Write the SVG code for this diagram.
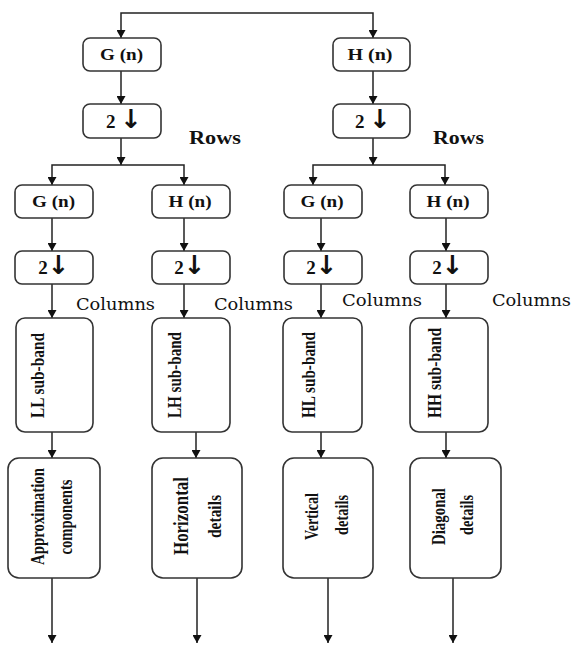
<svg xmlns="http://www.w3.org/2000/svg" width="572" height="647" viewBox="0 0 572 647">
<style>
.box{fill:#fff;stroke:#333;stroke-width:1.6}
.lbl{font-family:"Liberation Serif",serif;font-weight:bold;font-size:16px;fill:#111;text-anchor:middle}
.two{font-family:"Liberation Serif",serif;font-weight:bold;font-size:19px;fill:#111;text-anchor:middle}
.arr{font-family:"DejaVu Sans",sans-serif;font-weight:bold;font-size:26px}
.rows{font-family:"Liberation Serif",serif;font-weight:bold;font-size:18px;fill:#111}
.cols{font-family:"DejaVu Serif",serif;font-size:16px;fill:#111}
.rot{font-family:"Liberation Serif",serif;font-weight:bold;font-size:18px;fill:#111;text-anchor:middle;dominant-baseline:central}
.con{fill:none;stroke:#222;stroke-width:1.5;marker-end:url(#ah)}
</style>
<defs>
<marker id="ah" markerUnits="userSpaceOnUse" markerWidth="9" markerHeight="9" refX="8" refY="4.5" orient="auto">
<path d="M0,0 L8,4.5 L0,9 z" fill="#111"/>
</marker>
</defs>
<g id="connectors">
<path class="con" d="M247,13 H121 V38"/>
<path class="con" d="M247,13 H373 V38"/>
<path class="con" d="M121,71 V104"/>
<path class="con" d="M373,71 V104"/>
<path class="con" d="M121,138 V165"/>
<path class="con" d="M373,138 V165"/>
<path class="con" d="M121,165 H52 V185"/>
<path class="con" d="M121,165 H184 V185"/>
<path class="con" d="M373,165 H313 V185"/>
<path class="con" d="M373,165 H445 V185"/>
<path class="con" d="M52,218 V251"/>
<path class="con" d="M184,218 V251"/>
<path class="con" d="M321,218 V251"/>
<path class="con" d="M446,218 V251"/>
<path class="con" d="M52,284 V318"/>
<path class="con" d="M184,284 V318"/>
<path class="con" d="M321,284 V318"/>
<path class="con" d="M446,284 V318"/>
<path class="con" d="M52,432 V458"/>
<path class="con" d="M196,432 V458"/>
<path class="con" d="M321,432 V458"/>
<path class="con" d="M446,432 V458"/>
<path class="con" d="M52,578 V643"/>
<path class="con" d="M197,578 V643"/>
<path class="con" d="M328,578 V643"/>
<path class="con" d="M453,578 V643"/>
</g>
<g id="G1"><rect class="box" x="83" y="38" width="78" height="33" rx="7"/><text class="lbl" x="121.5" y="60" textLength="43" lengthAdjust="spacingAndGlyphs">G (n)</text></g>
<g id="H1"><rect class="box" x="333" y="38" width="77" height="33" rx="7"/><text class="lbl" x="370" y="60" textLength="45" lengthAdjust="spacingAndGlyphs">H (n)</text></g>
<g id="D1"><rect class="box" x="83" y="104" width="78" height="34" rx="7"/><text class="two" x="124" y="128">2 <tspan class="arr">↓</tspan></text></g>
<g id="D2"><rect class="box" x="333" y="104" width="77" height="34" rx="7"/><text class="two" x="373" y="128">2 <tspan class="arr">↓</tspan></text></g>
<text class="rows" x="189" y="144" textLength="52" lengthAdjust="spacingAndGlyphs">Rows</text>
<text class="rows" x="433" y="144" textLength="51" lengthAdjust="spacingAndGlyphs">Rows</text>
<g id="G2a"><rect class="box" x="15" y="185" width="78" height="33" rx="7"/><text class="lbl" x="53.5" y="207" textLength="43" lengthAdjust="spacingAndGlyphs">G (n)</text></g>
<g id="H2a"><rect class="box" x="152" y="185" width="78" height="33" rx="7"/><text class="lbl" x="190" y="207" textLength="43" lengthAdjust="spacingAndGlyphs">H (n)</text></g>
<g id="G2b"><rect class="box" x="284" y="185" width="78" height="33" rx="7"/><text class="lbl" x="322" y="207" textLength="43" lengthAdjust="spacingAndGlyphs">G (n)</text></g>
<g id="H2b"><rect class="box" x="410" y="185" width="78" height="33" rx="7"/><text class="lbl" x="448" y="207" textLength="43" lengthAdjust="spacingAndGlyphs">H (n)</text></g>
<g id="D3"><rect class="box" x="15" y="251" width="78" height="33" rx="7"/><text class="two" x="54" y="274">2<tspan class="arr">↓</tspan></text></g>
<g id="D4"><rect class="box" x="152" y="251" width="78" height="33" rx="7"/><text class="two" x="190" y="274">2<tspan class="arr">↓</tspan></text></g>
<g id="D5"><rect class="box" x="284" y="251" width="78" height="33" rx="7"/><text class="two" x="322" y="274">2<tspan class="arr">↓</tspan></text></g>
<g id="D6"><rect class="box" x="410" y="251" width="78" height="33" rx="7"/><text class="two" x="448" y="274">2<tspan class="arr">↓</tspan></text></g>
<text class="cols" x="76" y="310" textLength="79" lengthAdjust="spacingAndGlyphs">Columns</text>
<text class="cols" x="214" y="310" textLength="79" lengthAdjust="spacingAndGlyphs">Columns</text>
<text class="cols" x="342" y="306" textLength="80" lengthAdjust="spacingAndGlyphs">Columns</text>
<text class="cols" x="492" y="306" textLength="79" lengthAdjust="spacingAndGlyphs">Columns</text>
<g id="LL"><rect class="box" x="16" y="318" width="77" height="114" rx="9"/><text class="rot" transform="translate(38,375.5) rotate(-90)" textLength="85" lengthAdjust="spacingAndGlyphs">LL sub-band</text></g>
<g id="LH"><rect class="box" x="152" y="318" width="78" height="114" rx="9"/><text class="rot" transform="translate(175,375) rotate(-90)" textLength="86" lengthAdjust="spacingAndGlyphs">LH sub-band</text></g>
<g id="HL"><rect class="box" x="283" y="318" width="79" height="114" rx="9"/><text class="rot" transform="translate(308.5,375) rotate(-90)" textLength="86" lengthAdjust="spacingAndGlyphs">HL sub-band</text></g>
<g id="HH"><rect class="box" x="410" y="318" width="78" height="114" rx="9"/><text class="rot" transform="translate(434.5,373) rotate(-90)" textLength="90" lengthAdjust="spacingAndGlyphs">HH sub-band</text></g>
<g id="Approx"><rect class="box" x="8" y="458" width="92" height="120" rx="11"/>
<text class="rot" transform="translate(37.5,516.5) rotate(-90)" textLength="97" lengthAdjust="spacingAndGlyphs">Approximation</text>
<text class="rot" transform="translate(66,517) rotate(-90)" textLength="75" lengthAdjust="spacingAndGlyphs">components</text></g>
<g id="Horiz"><rect class="box" x="152" y="458" width="90" height="120" rx="11"/>
<text class="rot" style="font-size:21px" transform="translate(181,516) rotate(-90)" textLength="78" lengthAdjust="spacingAndGlyphs">Horizontal</text>
<text class="rot" transform="translate(215,516.5) rotate(-90)" textLength="43" lengthAdjust="spacingAndGlyphs">details</text></g>
<g id="Vert"><rect class="box" x="283" y="458" width="90" height="120" rx="11"/>
<text class="rot" transform="translate(311.5,516.5) rotate(-90)" textLength="47" lengthAdjust="spacingAndGlyphs">Vertical</text>
<text class="rot" transform="translate(341.5,515) rotate(-90)" textLength="40" lengthAdjust="spacingAndGlyphs">details</text></g>
<g id="Diag"><rect class="box" x="410" y="458" width="91" height="120" rx="11"/>
<text class="rot" transform="translate(438.5,516.5) rotate(-90)" textLength="57" lengthAdjust="spacingAndGlyphs">Diagonal</text>
<text class="rot" transform="translate(467,515) rotate(-90)" textLength="40" lengthAdjust="spacingAndGlyphs">details</text></g>
</svg>
